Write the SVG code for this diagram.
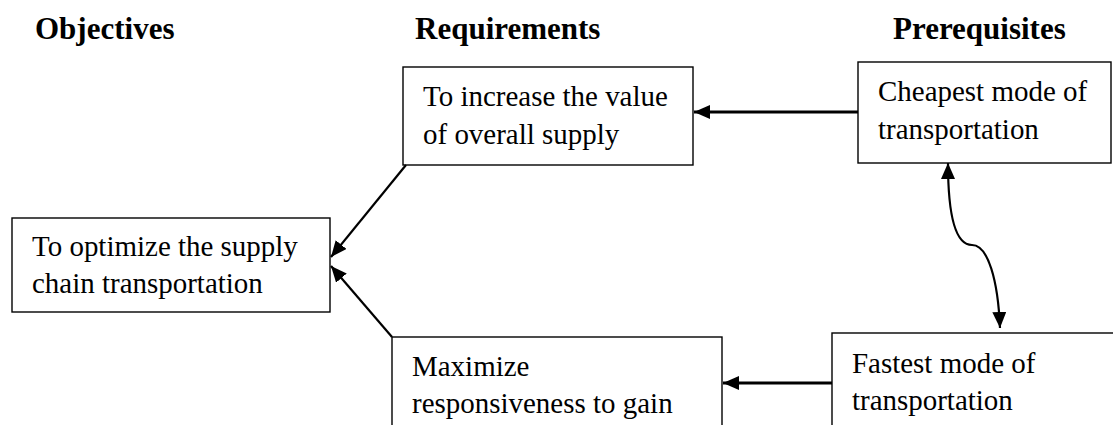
<svg xmlns="http://www.w3.org/2000/svg" width="1113" height="425" viewBox="0 0 1113 425">
  <style>
    .head { font-family: "Liberation Serif", "Times New Roman", serif; font-weight: bold; font-size: 31px; fill: #000; }
    .label { font-family: "Liberation Serif", "Times New Roman", serif; font-size: 30.5px; fill: #000; }
    .box { fill: #fff; stroke: #000; stroke-width: 1.4; }
    .link { fill: none; stroke: #000; stroke-width: 2.2; }
    .thick { stroke-width: 3; }
  </style>
  <defs>
    <marker id="arrow" viewBox="0 0 16 14" refX="16" refY="7" markerWidth="16" markerHeight="14" markerUnits="userSpaceOnUse" orient="auto">
      <path d="M0,0 L16,7 L0,14 Z" fill="#000"/>
    </marker>
    <marker id="arrowStart" viewBox="0 0 16 14" refX="16" refY="7" markerWidth="16" markerHeight="14" markerUnits="userSpaceOnUse" orient="auto-start-reverse">
      <path d="M0,0 L16,7 L0,14 Z" fill="#000"/>
    </marker>
  </defs>

  <rect width="1113" height="425" fill="#fff"/>

  <!-- column headings -->
  <g id="headings">
    <text class="head" x="35" y="39">Objectives</text>
    <text class="head" x="415" y="39">Requirements</text>
    <text class="head" x="893" y="39">Prerequisites</text>
  </g>

  <!-- node labels are set slightly condensed: x values are pre-divided by 0.95 -->
  <g id="objective">
    <rect class="box" x="12" y="218" width="318" height="94"/>
    <g transform="scale(0.95,1)">
      <text class="label" x="33.7" y="256">To optimize the supply</text>
      <text class="label" x="33.7" y="293">chain transportation</text>
    </g>
  </g>

  <g id="req-value">
    <rect class="box" x="403" y="67" width="290" height="98"/>
    <g transform="scale(0.95,1)">
      <text class="label" x="445.3" y="106">To increase the value</text>
      <text class="label" x="445.3" y="144">of overall supply</text>
    </g>
  </g>

  <g id="req-response">
    <rect class="box" x="392" y="337" width="330" height="100"/>
    <g transform="scale(0.95,1)">
      <text class="label" x="433.7" y="376">Maximize</text>
      <text class="label" x="433.7" y="413">responsiveness to gain</text>
    </g>
  </g>

  <g id="pre-cheap">
    <rect class="box" x="858" y="62" width="253" height="101"/>
    <g transform="scale(0.95,1)">
      <text class="label" x="924.2" y="101">Cheapest mode of</text>
      <text class="label" x="924.2" y="139">transportation</text>
    </g>
  </g>

  <g id="pre-fast">
    <rect class="box" x="832" y="333" width="290" height="104"/>
    <g transform="scale(0.95,1)">
      <text class="label" x="896.8" y="373">Fastest mode of</text>
      <text class="label" x="896.8" y="410">transportation</text>
    </g>
  </g>

  <!-- connectors -->
  <g id="connectors">
    <line class="link thick" x1="858" y1="112" x2="694" y2="112" marker-end="url(#arrow)"/>
    <line class="link thick" x1="832" y1="383" x2="723" y2="383" marker-end="url(#arrow)"/>
    <line class="link" x1="406" y1="165" x2="331" y2="257" marker-end="url(#arrow)"/>
    <line class="link" x1="392" y1="337" x2="331" y2="266" marker-end="url(#arrow)"/>
    <path class="link" d="M948,163 C948,215 955,245 972,245 C988,245 998,280 1000,328" marker-start="url(#arrowStart)" marker-end="url(#arrow)"/>
  </g>
</svg>
